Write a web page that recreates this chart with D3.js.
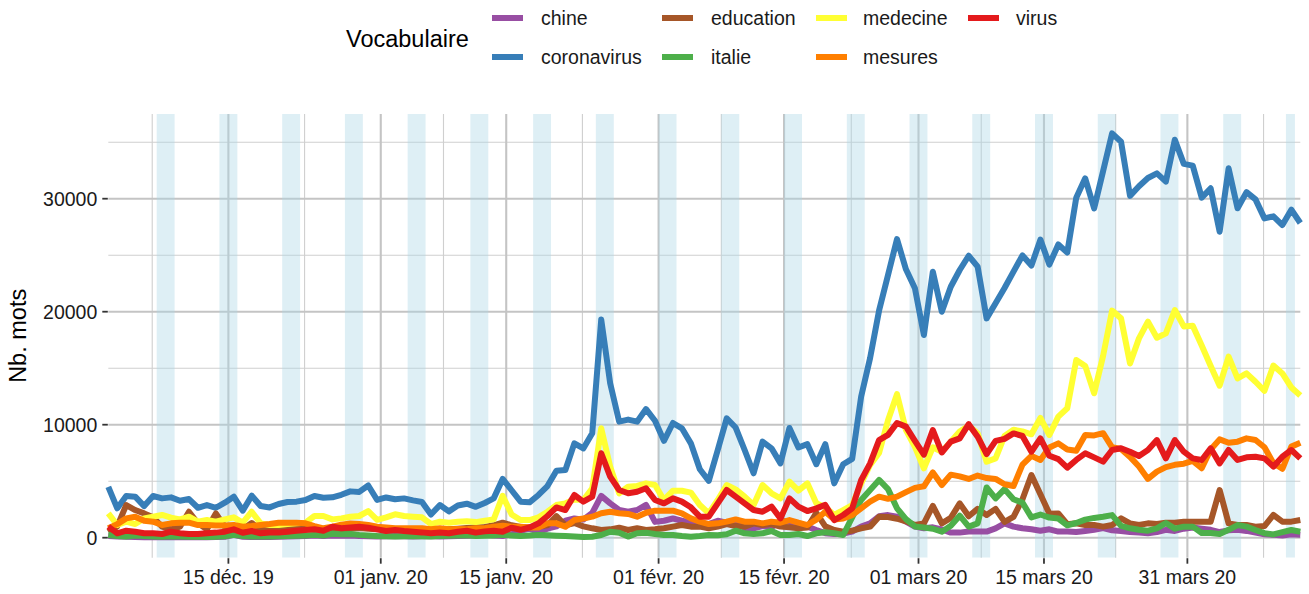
<!DOCTYPE html>
<html><head><meta charset="utf-8">
<script src="https://cdn.jsdelivr.net/npm/d3@7"></script>
<style>
body{margin:0;background:#fff}
svg{display:block}
text{font-family:"Liberation Sans", Arial, Helvetica, sans-serif}
</style>
</head><body>
<svg id="chart" width="1309" height="594"></svg>
<script>
// ---------- DATA ----------
const firstDay = [2019, 11, 1];           // 1 Dec 2019, one value per day
const pointHour = 14.4;                   // time-of-day at which daily values are plotted
const categories = ["chine","coronavirus","education","italie","medecine","mesures","virus"];
const colors = ["#984EA3","#377EB8","#A65628","#4DAF4A","#FFFF33","#FF7F00","#E41A1C"];

const chine = [150,100,80,60,50,40,50,40,50,60,40,50,60,80,250,80,60,80,60,80,100,120,150,200,150,200,180,200,150,120,100,120,150,120,100,120,150,100,120,150,180,200,250,200,150,300,600,800,500,800,1000,1500,1700,1600,2200,3700,3040,2450,2300,2450,2900,1400,1500,1700,1500,1330,1270,1210,1500,1330,1420,830,830,1030,920,1500,1420,1030,980,680,400,320,360,540,980,1270,1900,2000,1860,1420,980,830,920,740,450,450,540,540,540,830,1270,980,830,740,620,740,540,540,500,600,700,850,650,600,500,450,400,500,700,600,800,900,800,700,500,650,700,600,450,300,250,200,300,250];
const coronavirus = [4500,2600,3690,3630,2800,3690,3480,3570,3270,3420,2650,2890,2650,3100,3630,2390,3720,2800,2680,2980,3160,3190,3330,3690,3540,3570,3800,4100,4050,4620,3340,3560,3400,3480,3300,3160,2050,2890,2330,2850,3010,2730,3070,3480,5200,4200,3190,3130,3780,4570,5930,5990,8350,7900,9240,19300,13660,10270,10450,10270,11380,10350,8570,10150,9680,8350,6060,5030,7760,10560,9750,7760,5700,8500,7910,6580,9710,7980,8280,6500,8280,4810,6500,6980,12480,15900,20100,23250,26420,23750,22070,17940,23540,20000,22210,23690,24950,23980,19410,20740,22100,23550,24980,24080,26380,24170,25950,25230,30080,31800,29150,32450,35780,35040,30250,31100,31830,32240,31510,35220,33080,32930,30100,30920,27080,32690,29150,30580,29940,28260,28440,27670,29030,27850];
const education = [500,1000,2890,2450,2150,1800,970,740,970,2300,1270,740,2150,970,800,750,1300,700,650,700,750,800,850,800,750,700,750,800,850,800,750,700,650,700,750,700,650,700,750,800,850,900,950,1100,1330,1100,950,900,1000,1100,1900,1100,1300,1000,830,680,740,890,680,830,680,740,830,980,1120,980,980,830,980,1210,1030,980,1270,1120,1210,980,920,830,900,2200,1000,680,530,620,830,980,1860,1830,1680,1450,1120,1270,2820,1270,1750,3040,1900,2550,2010,2550,1400,1850,3400,5550,3850,2130,2150,1200,1270,1120,1120,980,1120,1710,1270,1120,1270,1210,1330,1330,1420,1420,1420,1420,4220,1270,1120,1120,980,1030,2010,1420,1420,1560];
const italie = [240,150,100,200,150,100,80,120,100,80,80,60,80,120,250,150,100,120,100,120,150,180,200,250,200,350,300,330,250,200,150,120,100,120,150,120,100,150,180,200,220,150,180,200,250,200,150,200,250,220,180,150,100,60,90,240,530,440,100,390,440,330,240,240,150,90,150,240,210,300,620,390,330,390,590,240,240,330,150,390,480,390,240,1800,3340,4220,5110,4300,2600,1650,1000,900,790,530,1050,1950,980,1270,4440,3480,4300,3400,3100,1800,2050,1780,1700,1100,1300,1600,1750,1850,2000,1050,830,700,620,830,1300,800,980,980,420,420,330,700,1120,980,680,400,290,490,680,530];
const medecine = [2150,1120,1420,1210,1710,1860,2010,1770,1620,1860,1420,1560,1420,1620,1800,1330,2300,1270,1120,1120,1210,1270,1330,1920,1920,1620,1710,1860,1920,2350,1580,1800,2070,1920,1860,1800,1210,1420,1330,1420,1460,1380,1500,1620,3700,2050,1560,1560,1800,2300,2890,3040,3390,3340,4370,9680,6290,3930,4520,4580,4810,4660,3340,4160,4160,3990,2890,2160,3340,4660,4280,3630,2890,4660,3930,3480,4960,4160,4810,3040,2700,2010,2450,2890,4810,6430,7500,10400,12700,9530,8050,6140,8000,7600,8500,9400,9900,9230,6720,7020,9000,9550,9400,9150,10600,9090,10710,11450,15720,15200,12780,16100,20100,19410,15420,17640,19120,17700,18080,20150,18700,18750,17000,15200,13450,16020,14100,14540,13800,13000,15230,14540,13300,12580];
const mesures = [830,1200,1710,1860,1500,1420,1120,1270,1330,1330,1120,1120,1090,1090,1120,970,1030,1120,1210,1330,1330,1330,1270,1030,830,970,1150,1250,1210,1120,970,910,830,830,830,830,740,830,740,770,740,830,830,970,1060,970,970,910,910,1270,1270,970,1560,1700,1860,2160,2300,2160,2100,1860,2210,2390,2390,2390,2160,1710,1420,1210,1270,1420,1620,1420,1420,1270,1420,1330,1560,1330,1120,1600,2300,1600,1700,2000,2600,3190,3630,3440,3630,4030,4410,4550,5770,4660,5580,5430,5200,5500,5280,5200,4730,4570,6460,7240,6880,7980,8350,7800,7700,9090,9050,9250,8000,7850,7150,6300,5200,5850,6250,6450,6550,6800,6150,7800,8700,8400,8500,8790,8650,8000,6600,6100,8060,8400];
const virus = [975,390,620,530,390,390,330,530,390,330,330,390,450,530,740,440,590,390,450,450,530,620,680,740,620,970,830,910,970,880,740,590,680,590,530,470,390,450,390,530,620,450,560,620,530,880,700,910,1270,1920,2680,2450,3780,3190,3630,7470,5400,4220,3930,4070,4370,3340,3040,3480,3190,2690,1860,1860,3040,4220,3630,3040,2450,2300,2750,1710,3480,2750,2360,2600,2900,1560,2010,2600,5100,6580,8640,9100,10150,9830,8570,7350,9530,7540,8500,8790,10050,8940,7400,8570,8750,9230,9000,7610,8790,7250,6950,6200,6880,7470,7110,6730,7760,7910,7610,7230,7760,8640,7020,8640,7610,7020,6880,7910,6580,7760,6880,7110,7170,7020,6290,7170,7760,7020];

const xTickDates  = ["2019-12-15","2020-01-01","2020-01-15","2020-02-01","2020-02-15","2020-03-01","2020-03-15","2020-03-31"];
const xTickLabels = ["15 déc. 19","01 janv. 20","15 janv. 20","01 févr. 20","15 févr. 20","01 mars 20","15 mars 20","31 mars 20"];
const xMinorDates = ["2019-12-06T12:00Z","2019-12-23T12:00Z","2020-01-08T00:00Z","2020-01-23T12:00Z","2020-02-08T00:00Z","2020-02-22T12:00Z","2020-03-08T00:00Z","2020-03-23T00:00Z","2020-04-08T12:00Z"];
const yTicks = [0, 10000, 20000, 30000];
const yMinor = [5000, 15000, 25000, 35000];
const legendTitle = "Vocabulaire";
const yTitle = "Nb. mots";

// ---------- BUILD ----------
const seriesValues = {chine, coronavirus, education, italie, medecine, mesures, virus};
const dayDate = i => new Date(Date.UTC(firstDay[0], firstDay[1], firstDay[2] + i, 0, 0) + pointHour*3600e3);
const dayStart = i => new Date(Date.UTC(firstDay[0], firstDay[1], firstDay[2] + i));
const nDays = coronavirus.length;
const series = categories.map((c, k) => ({
  name: c, color: colors[k],
  values: seriesValues[c].map((v, i) => ({date: dayDate(i), value: v}))
}));

// weekend bands: Saturday 00:00 -> Monday 00:00, ending at the last day
const lastDayStart = dayStart(nDays - 1);
const bands = [];
for (let i = 0; i < nDays; i++) {
  const d = dayStart(i);
  if (d.getUTCDay() === 6) {
    const end = new Date(Math.min(+d + 2*86400e3, +lastDayStart));
    bands.push({start: d, end});
  }
}

const svg = d3.select("#chart");
const panel = {left: 108.3, right: 1300.3, top: 114, bottom: 557.7};

const x = d3.scaleUtc()
  .domain([dayDate(0), dayDate(nDays - 1)])
  .range([panel.left, panel.right]);
const y = d3.scaleLinear().domain([0, 30000]).range([537.7, 198.7]);

svg.append("defs").append("clipPath").attr("id", "clip")
  .append("rect").attr("x", panel.left).attr("y", panel.top)
  .attr("width", panel.right - panel.left).attr("height", panel.bottom - panel.top);

const grid = svg.append("g");
grid.selectAll("line.hmin").data(yMinor).join("line")
  .attr("x1", panel.left).attr("x2", panel.right)
  .attr("y1", d => y(d)).attr("y2", d => y(d))
  .attr("stroke", "#cfcfcf").attr("stroke-width", 1.1);
grid.selectAll("line.vmin").data(xMinorDates.map(d => new Date(d))).join("line")
  .attr("y1", panel.top).attr("y2", panel.bottom)
  .attr("x1", d => x(d)).attr("x2", d => x(d))
  .attr("stroke", "#cfcfcf").attr("stroke-width", 1.1);
grid.selectAll("line.hmaj").data(yTicks).join("line")
  .attr("x1", panel.left).attr("x2", panel.right)
  .attr("y1", d => y(d)).attr("y2", d => y(d))
  .attr("stroke", "#c4c4c4").attr("stroke-width", 2.1);
const tickDates = xTickDates.map(d => new Date(d + "T00:00Z"));
grid.selectAll("line.vmaj").data(tickDates).join("line")
  .attr("y1", panel.top).attr("y2", panel.bottom)
  .attr("x1", d => x(d)).attr("x2", d => x(d))
  .attr("stroke", "#c4c4c4").attr("stroke-width", 2.1);

svg.append("g").attr("clip-path", "url(#clip)")
  .selectAll("rect").data(bands).join("rect")
  .attr("x", d => x(d.start)).attr("width", d => x(d.end) - x(d.start))
  .attr("y", panel.top).attr("height", panel.bottom - panel.top)
  .attr("fill", "#ADD8E6").attr("fill-opacity", 0.4);

const line = d3.line().x(d => x(d.date)).y(d => y(d.value));
svg.append("g").selectAll("path").data(series).join("path")
  .attr("d", d => line(d.values))
  .attr("fill", "none").attr("stroke", d => d.color)
  .attr("stroke-width", 6).attr("stroke-linejoin", "round").attr("stroke-linecap", "butt");

const txtCol = "#1a1a1a";
const yAxis = svg.append("g");
yAxis.selectAll("line").data(yTicks).join("line")
  .attr("x1", panel.left - 6).attr("x2", panel.left - 0.5)
  .attr("y1", d => y(d)).attr("y2", d => y(d))
  .attr("stroke", "#333").attr("stroke-width", 1.8);
yAxis.selectAll("text").data(yTicks).join("text")
  .attr("x", panel.left - 11).attr("y", d => y(d)).attr("dy", "0.36em")
  .attr("text-anchor", "end").attr("font-size", 19.5).attr("fill", txtCol)
  .text(d => d3.format("d")(d));

const xAxis = svg.append("g");
xAxis.selectAll("line").data(tickDates).join("line")
  .attr("x1", d => x(d)).attr("x2", d => x(d))
  .attr("y1", panel.bottom + 0.5).attr("y2", panel.bottom + 6)
  .attr("stroke", "#333").attr("stroke-width", 1.8);
xAxis.selectAll("text").data(tickDates).join("text")
  .attr("x", d => x(d)).attr("y", 583.5)
  .attr("text-anchor", "middle").attr("font-size", 19.5).attr("fill", txtCol)
  .text((d, i) => xTickLabels[i]);

svg.append("text")
  .attr("transform", `translate(26,${(panel.top + panel.bottom)/2}) rotate(-90)`)
  .attr("text-anchor", "middle").attr("font-size", 23.5).attr("fill", "#000")
  .text(yTitle);

const leg = svg.append("g");
leg.append("text").attr("x", 346).attr("y", 46.5).attr("font-size", 23.5).attr("fill", "#000").text(legendTitle);
const keyX = [492, 662, 816, 968];
const labX = [541, 711, 863, 1016];
const rowY = [18, 57];
categories.forEach((c, k) => {
  const col = Math.floor(k / 2), row = k % 2;
  const gy = rowY[row];
  leg.append("line").attr("x1", keyX[col]).attr("x2", keyX[col] + 31).attr("y1", gy).attr("y2", gy)
    .attr("stroke", colors[k]).attr("stroke-width", 6);
  leg.append("text").attr("x", labX[col]).attr("y", gy).attr("dy", "0.36em")
    .attr("font-size", 19.5).attr("fill", txtCol).text(c);
});
</script>
</body></html>
